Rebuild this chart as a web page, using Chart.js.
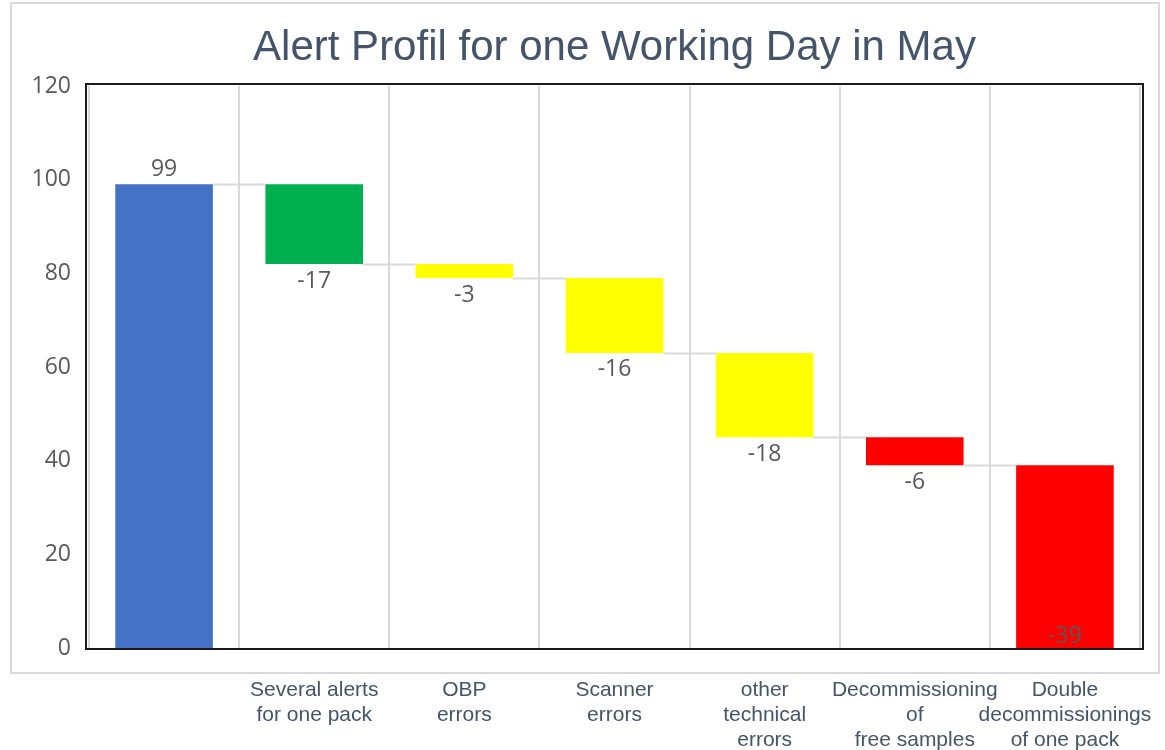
<!DOCTYPE html>
<html>
<head>
<meta charset="utf-8">
<title>Alert Profil</title>
<script src="https://cdn.jsdelivr.net/npm/chart.js@4"></script>
<style>
  html, body { margin: 0; padding: 0; background: #fff; }
  #wrap { width: 1165px; height: 750px; }
</style>
</head>
<body>
<div id="wrap"><canvas id="chartCanvas" width="1165" height="750"></canvas></div>
<script>
// chart data
const categories = [
  '',
  ['Several alerts', 'for one pack'],
  ['OBP', 'errors'],
  ['Scanner', 'errors'],
  ['other', 'technical', 'errors'],
  ['Decommissioning', 'of', 'free samples'],
  ['Double', 'decommissionings', 'of one pack']
];
const startTotal = 99;
const changes = [-17, -3, -16, -18, -6, -39];
const yTicks = [0, 20, 40, 60, 80, 100, 120];

const barColors = ['#4472C4', '#00B050', '#FFFF00', '#FFFF00', '#FFFF00', '#FF0000', '#FF0000'];
const FONT = "'Liberation Sans', Arial, sans-serif";
const NUM_FONT = "'Open Sans', 'Noto Sans', sans-serif";

// build floating ranges for the waterfall
const ranges = [[0, startTotal]];
const labelValues = [startTotal];
let level = startTotal;
changes.forEach(c => {
  const next = level + c;
  ranges.push([Math.min(level, next), Math.max(level, next)]);
  labelValues.push(c);
  level = next;
});

const frame = {
  id: 'frame',
  beforeDraw(chart) {
    const ctx = chart.ctx;
    ctx.save();
    ctx.strokeStyle = '#d9d9d9';
    ctx.lineWidth = 2;
    ctx.strokeRect(11, 3, 1148, 670);
    ctx.restore();
  },
  afterDraw(chart) {
    const ctx = chart.ctx;
    const a = chart.chartArea;
    ctx.save();
    ctx.strokeStyle = '#1a1a1a';
    ctx.lineWidth = 2;
    ctx.strokeRect(a.left - 3, a.top - 2, a.right - a.left + 6, a.bottom - a.top + 3);
    // title centred over the plot
    ctx.fillStyle = '#44546A';
    ctx.font = '42px ' + FONT;
    ctx.textAlign = 'center';
    ctx.textBaseline = 'alphabetic';
    ctx.fillText('Alert Profil for one Working Day in May', (a.left + a.right) / 2, 60);
    ctx.restore();
  }
};

const connectors = {
  id: 'connectors',
  afterDatasetsDraw(chart) {
    const ctx = chart.ctx;
    const meta = chart.getDatasetMeta(0);
    const y = chart.scales.y;
    ctx.save();
    ctx.strokeStyle = '#d9d9d9';
    ctx.lineWidth = 2;
    let lvl = startTotal;
    for (let i = 0; i < meta.data.length - 1; i++) {
      const b1 = meta.data[i], b2 = meta.data[i + 1];
      const py = Math.round(y.getPixelForValue(lvl)) + 0.5;
      ctx.beginPath();
      ctx.moveTo(b1.x + b1.width / 2, py);
      ctx.lineTo(b2.x - b2.width / 2, py);
      ctx.stroke();
      lvl += changes[i] || 0;
    }
    // data labels
    ctx.fillStyle = '#595959';
    ctx.font = '23px ' + NUM_FONT;
    ctx.textAlign = 'center';
    ctx.textBaseline = 'middle';
    const a = chart.chartArea;
    meta.data.forEach((bar, i) => {
      const v = labelValues[i];
      const top = Math.min(bar.y, bar.base);
      const bottom = Math.max(bar.y, bar.base);
      let ty;
      if (v >= 0) ty = top - 15;
      else ty = bottom + 17 > a.bottom - 4 ? bottom - 12 : bottom + 17;
      ctx.fillText(String(v), bar.x, ty);
    });
    ctx.restore();
  }
};

new Chart('chartCanvas', {
  type: 'bar',
  data: {
    labels: categories,
    datasets: [{
      data: ranges,
      backgroundColor: barColors,
      borderWidth: 0,
      borderSkipped: false,
      barPercentage: 0.65,
      categoryPercentage: 1
    }]
  },
  options: {
    responsive: false,
    animation: false,
    layout: { padding: { top: 86, left: 0, right: 25, bottom: 0 } },
    plugins: {
      legend: { display: false },
      title: { display: false },
      tooltip: { enabled: false }
    },
    scales: {
      x: {
        grid: { color: '#d9d9d9', lineWidth: 2, offset: true, drawTicks: false },
        border: { display: false },
        afterFit: axis => {
          axis.height = 102;
          axis.paddingLeft = 0;
          axis.paddingRight = 0;
        },
        ticks: {
          color: '#44546A',
          font: { family: FONT, size: 21, lineHeight: 1.19 },
          padding: 30,
          maxRotation: 0,
          autoSkip: false
        }
      },
      y: {
        min: 0,
        max: 120,
        afterBuildTicks: axis => { axis.ticks = yTicks.map(v => ({ value: v })); },
        afterFit: axis => { axis.width = 89; },
        grid: { display: false, drawTicks: false },
        border: { display: false },
        ticks: {
          color: '#595959',
          font: { family: NUM_FONT, size: 23 },
          padding: 18
        }
      }
    }
  },
  plugins: [frame, connectors]
});
</script>
</body>
</html>
